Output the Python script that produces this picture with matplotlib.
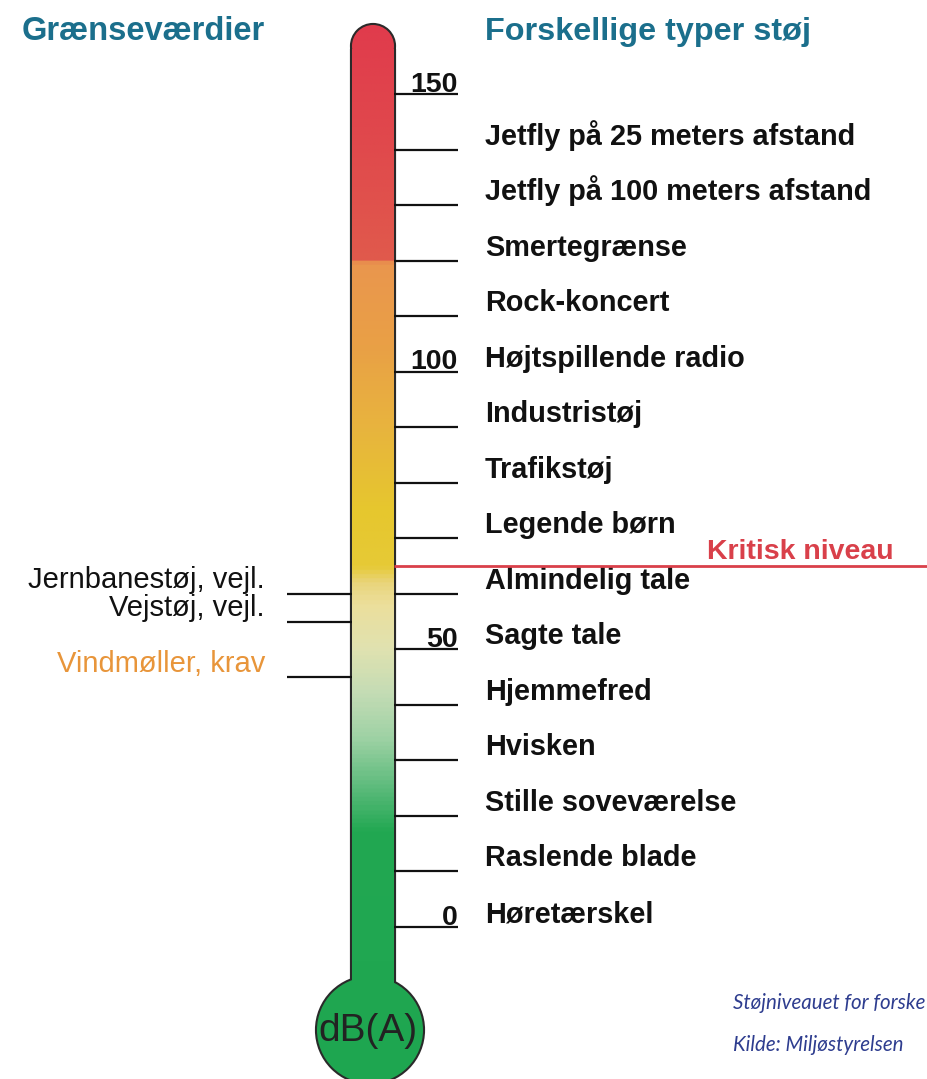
import numpy as np
import matplotlib
matplotlib.use('Agg')
import matplotlib.pyplot as plt
from matplotlib.colors import LinearSegmentedColormap
from matplotlib.path import Path
from matplotlib.patches import PathPatch

# noise sources (dB(A)) shown right of the thermometer
sources = ['Høretærskel', 'Raslende blade', 'Stille soveværelse', 'Hvisken',
           'Hjemmefred', 'Sagte tale', 'Almindelig tale', 'Legende børn',
           'Trafikstøj', 'Industristøj', 'Højtspillende radio', 'Rock-koncert',
           'Smertegrænse', 'Jetfly på 100 meters afstand', 'Jetfly på 25 meters afstand']
levels = [0, 10, 20, 30, 40, 50, 60, 70, 80, 90, 100, 110, 120, 130, 140]
scale_ticks = [0, 50, 100, 150]

# limit values left of the thermometer
limits = ['Jernbanestøj, vejl.', 'Vejstøj, vejl.', 'Vindmøller, krav']
limit_levels = [60, 55, 45]
limit_colors = ['#111111', '#111111', '#e8953a']

critical = 65

# scale: 0 dB at pixel row 927, 150 dB at row 94
px_per_db = (927 - 94) / 150
def db(py):
    return (927 - py) / px_per_db

sans = ['Liberation Sans', 'DejaVu Sans']
teal = '#1b6f8c'

fig = plt.figure(figsize=(9.28, 10.79), dpi=100)
ax = fig.add_axes([0, 0, 1, 1])
ax.set_xlim(0, 928)
ax.set_ylim(db(1079), db(0))
ax.axis('off')

# thermometer shape (x in px, y in dB)
xl, xr = 352, 394
r_top = (xr - xl) / 2
xc = (xl + xr) / 2
bulb_x, bulb_py, bulb_r = 370, 1030, 53
top_py = 25 + r_top

def circle(cx, cpy, r):
    c = Path.unit_circle()
    v = c.vertices.copy()
    v[:, 0] = cx + v[:, 0] * r
    v[:, 1] = db(cpy) + v[:, 1] * r / px_per_db
    return Path(v, c.codes)

tube = Path([(xl, db(bulb_py)), (xr, db(bulb_py)), (xr, db(top_py + 3)), (xl, db(top_py + 3)),
             (xl, db(bulb_py))],
            [Path.MOVETO, Path.LINETO, Path.LINETO, Path.LINETO, Path.CLOSEPOLY])
shape = Path.make_compound_path(tube, circle(xc, top_py, r_top), circle(bulb_x, bulb_py, bulb_r))

outline = PathPatch(shape, facecolor='none', edgecolor='#2a2a2a', lw=3.0,
                    joinstyle='round', capstyle='round', zorder=2)
ax.add_patch(outline)

stops = [(-30, '#1ea650'), (17, '#22a852'), (25, '#5dbb7c'), (34, '#9fd2a5'),
         (42, '#c4dcb5'), (50, '#e0e2b0'), (58, '#ecdf9c'), (62, '#e9d47a'),
         (65, '#e6ca36'), (75, '#e6c72e'), (90, '#e8b43e'), (105, '#e9a046'),
         (119.8, '#ea964e'), (120.2, '#e05a4c'), (140, '#e04a4c'), (168, '#e0384c')]
lo, hi = stops[0][0], stops[-1][0]
cmap = LinearSegmentedColormap.from_list(
    'therm', [((v - lo) / (hi - lo), c) for v, c in stops])
grad = np.linspace(lo, hi, 800).reshape(-1, 1)
img = ax.imshow(grad, cmap=cmap, vmin=lo, vmax=hi, origin='lower', aspect='auto',
                extent=(300, 440, lo, hi), zorder=3, interpolation='bilinear')
clip = PathPatch(shape, transform=ax.transData, facecolor='none', edgecolor='none')
ax.add_patch(clip)
img.set_clip_path(clip)
ax.set_xlim(0, 928)
ax.set_ylim(db(1079), db(0))

ax.text(xc - 5, db(bulb_py + 1), 'dB(A)', family=sans, fontsize=28, color='#222222',
        ha='center', va='center', zorder=5)

# ticks and labels on the right
all_lines = sorted(set(levels) | set(scale_ticks))
ax.hlines(all_lines, xr, 458, color='#111111', lw=1.6, zorder=4)
for name, lv in zip(sources, levels):
    ax.text(485, lv + 0.9, name, family=sans, fontweight='bold', fontsize=20.8,
            color='#111111', ha='left', va='baseline')
for t in scale_ticks:
    ax.text(458, t + 0.4, str(t), family=sans, fontweight='bold', fontsize=20.5,
            color='#111111', ha='right', va='baseline')

# limit values on the left
ax.hlines(limit_levels, 287, xl, color='#111111', lw=1.6, zorder=4)
for name, lv, c in zip(limits, limit_levels, limit_colors):
    ax.text(265, lv + 1.0, name, family=sans, fontsize=21, color=c,
            ha='right', va='baseline')

# critical level
ax.hlines(critical, xr, 928, color='#d9404a', lw=2, zorder=4)
ax.text(707, critical + 1.2, 'Kritisk niveau', family=sans, fontweight='bold', fontsize=20.5,
        color='#d9404a', ha='left', va='baseline')

# headings
ax.text(22, db(31), 'Grænseværdier', family=sans,
        fontweight='bold', fontsize=23.5, color=teal, ha='left', va='center')
ax.text(485, db(32), 'Forskellige typer støj', family=sans,
        fontweight='bold', fontsize=23.3, color=teal, ha='left', va='center')

# caption (cut at the right edge in the source picture)
ax.text(733, db(1003), 'Støjniveauet for forske', family=['Lato', 'DejaVu Sans'],
        style='italic', fontsize=14.8, color='#2e3d8f', ha='left', va='center')
ax.text(733, db(1045), 'Kilde: Miljøstyrelsen', family=['Lato', 'DejaVu Sans'],
        style='italic', fontsize=14.8, color='#2e3d8f', ha='left', va='center')

fig.savefig('out.png', dpi=100)
